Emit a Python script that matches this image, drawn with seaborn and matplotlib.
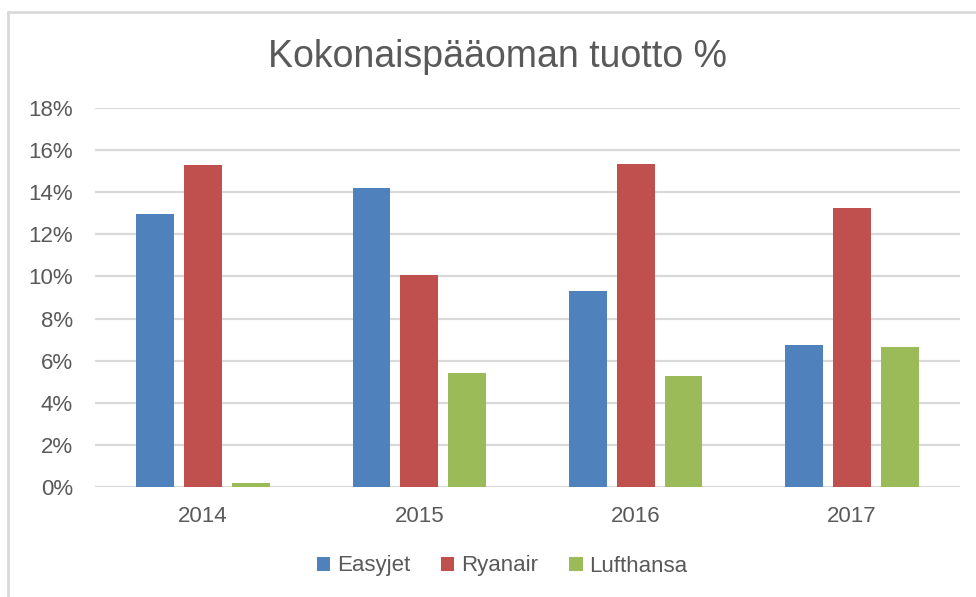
import matplotlib
matplotlib.use("Agg")
import matplotlib.pyplot as plt
import seaborn as sns
import pandas as pd
from matplotlib.lines import Line2D

years = ["2014", "2015", "2016", "2017"]
airlines = ["Easyjet", "Ryanair", "Lufthansa"]
easyjet = [12.96, 14.22, 9.29, 6.75]
ryanair = [15.30, 10.05, 15.32, 13.23]
lufthansa = [0.18, 5.40, 5.28, 6.64]
yticks = [0, 2, 4, 6, 8, 10, 12, 14, 16, 18]
title = "Kokonaispääoman tuotto %"

colors = ["#4F81BD", "#C0504D", "#9BBB59"]

rows = []
for name, vals in zip(airlines, [easyjet, ryanair, lufthansa]):
    for y, v in zip(years, vals):
        rows.append({"Vuosi": y, "Yhtiö": name, "Arvo": v})
df = pd.DataFrame(rows)

sns.set_theme(style="white")
plt.rcParams["font.family"] = ["Liberation Sans", "DejaVu Sans"]
txt = "#595959"
grid = "#D9D9D9"

fig = plt.figure(figsize=(9.76, 5.97), dpi=100)
ax = fig.add_axes([95 / 976, 1 - 487 / 597, (960 - 95) / 976, (487 - 108) / 597])

sns.barplot(data=df, x="Vuosi", y="Arvo", hue="Yhtiö", hue_order=airlines,
            order=years, palette=colors, saturation=1, width=0.664, gap=0.2075,
            linewidth=0, ax=ax, zorder=3)

ax.set_ylim(0, 18)
ax.set_xlim(-0.5, 3.5)
ax.set_yticks(yticks)
ax.set_yticklabels([f"{t}%" for t in yticks])
ax.yaxis.grid(True, color=grid, linewidth=1.6, zorder=0)
ax.set_axisbelow(True)
for s in ax.spines.values():
    s.set_visible(False)
ax.tick_params(axis="both", length=0, labelsize=16, labelcolor=txt)
ax.tick_params(axis="y", pad=16)
ax.tick_params(axis="x", pad=14)
ax.set_xlabel("")
ax.set_ylabel("")

fig.text(498 / 976, 1 - 57 / 597, title, ha="center", va="center",
         fontsize=27, color=txt)

handles, labels = ax.get_legend_handles_labels()
ax.legend_.remove()
fig.legend(handles, labels, loc="center", bbox_to_anchor=(502 / 976, 1 - 566 / 597),
           bbox_transform=fig.transFigure, ncol=3, frameon=False,
           fontsize=16, labelcolor=txt, handlelength=0.6, handleheight=0.6,
           handletextpad=0.3, columnspacing=1.4)

# outer chart frame (top and left edges visible)
fig.add_artist(Line2D([8 / 976, 1], [1 - 12 / 597, 1 - 12 / 597],
                      transform=fig.transFigure, color=grid, linewidth=2))
fig.add_artist(Line2D([8 / 976, 8 / 976], [0, 1 - 12 / 597],
                      transform=fig.transFigure, color=grid, linewidth=2))

fig.savefig("out.png", dpi=100, facecolor="white")
